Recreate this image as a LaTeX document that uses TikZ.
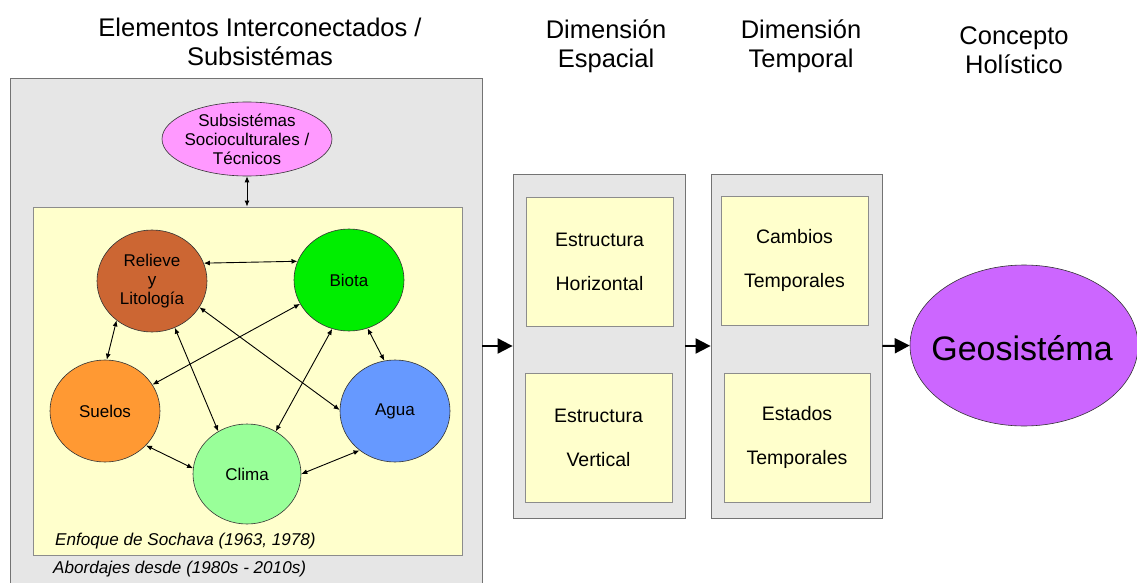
\documentclass[tikz,border=0pt]{standalone}
\usepackage{fontspec}
\setmainfont{Liberation Sans}
\usetikzlibrary{shapes.geometric,arrows.meta}
\definecolor{panelgray}{HTML}{E6E6E6}
\definecolor{paleyellow}{HTML}{FFFFCC}
\definecolor{relcol}{HTML}{CC6633}
\definecolor{biocol}{HTML}{00EE00}
\definecolor{suecol}{HTML}{FF9933}
\definecolor{agucol}{HTML}{6699FF}
\definecolor{clicol}{HTML}{99FF99}
\definecolor{pinkcol}{HTML}{FF99FF}
\definecolor{geocol}{HTML}{CC66FF}
\begin{document}
\begin{tikzpicture}[x=1pt,y=-1pt,
  panel/.style={draw=black!55, fill=panelgray, line width=0.8pt, inner sep=0pt},
  ybox/.style={draw=black!45, fill=paleyellow, line width=0.8pt, inner sep=0pt, align=center, font=\fontsize{19.5}{44}\selectfont},
  circ/.style={ellipse, draw=black!80, line width=0.6pt, minimum width=110pt, minimum height=102pt, inner sep=0pt, align=center, font=\fontsize{17}{19}\selectfont},
  conn/.style={{Latex[length=6pt,width=5pt]}-{Latex[length=6pt,width=5pt]}, line width=0.9pt},
  bigarrow/.style={-{Triangle[length=15pt,width=15pt]}, line width=2pt},
  header/.style={align=center, font=\fontsize{25.5}{29}\selectfont, inner sep=0pt},
  note/.style={anchor=west, inner sep=0pt, font=\fontsize{17.1}{19}\selectfont\itshape},
  label/.style={align=center, inner sep=0pt}
]
\useasboundingbox (0,0) rectangle (1137,583);
\clip (0,0) rectangle (1137,583);
\fill[white] (0,0) rectangle (1137,583);

% headers
\node[header] (h1) at (260,42) {Elementos Interconectados /\\Subsistémas};
\node[header] (h2) at (606,46) {Dimensión\\Espacial};
\node[header] (h3) at (801,46.5) {Dimensión\\Temporal};
\node[header] (h4) at (1014,50) {Concepto\\Holístico};

% left panel
\node[panel, minimum width=472pt, minimum height=522pt] (outer) at (246,339) {};
\node[ybox, minimum width=429pt, minimum height=348pt] (yel) at (247.5,381) {};
\node[ellipse, draw=black!80, fill=pinkcol, line width=0.6pt, minimum width=170pt, minimum height=74pt, inner sep=0pt] (sub) at (247,139) {};
\node[label, font=\fontsize{17}{19}\selectfont] (subtxt) at (sub.center) {Subsistémas\\Socioculturales /\\Técnicos};

\node[circ, fill=relcol] (rel) at (152,281) {Relieve\\y\\Litología};
\node[circ, fill=biocol] (bio) at (349,280) {Biota};
\node[circ, fill=suecol] (sue) at (105,411) {Suelos};
\node[circ, fill=agucol] (agu) at (395,411) {Agua};
\node[circ, fill=clicol, minimum width=108pt, minimum height=100pt] (cli) at (247,474) {Clima};

\draw[conn] (sub.south) -- (sub.south |- yel.north);
\draw[conn] (rel.19.7) -- (bio.160.6);
\draw[conn] (rel.228.8) -- (sue.88);
\draw[conn] (rel.-64.9) -- (cli.124);
\draw[conn] (rel.-29.9) -- (agu.179);
\draw[conn] (bio.206) -- (sue.29);
\draw[conn] (bio.251) -- (cli.56.6);
\draw[conn] (bio.291) -- (agu.102);
\draw[conn] (sue.-40.6) -- (cli.174);
\draw[conn] (cli.0) -- (agu.228);

\node[note] (n1) at (55,541) {Enfoque de Sochava (1963, 1978)};
\node[note] (n2) at (53,569) {Abordajes desde (1980s - 2010s)};

% spatial dimension
\node[panel, minimum width=172pt, minimum height=344pt] (esp) at (599,346) {};
\node[ybox, minimum width=147pt, minimum height=129pt] (eh) at (599.5,261.5) {Estructura\\Horizontal};
\node[ybox, minimum width=147pt, minimum height=129pt] (ev) at (598.5,437.5) {Estructura\\Vertical};

% temporal dimension
\node[panel, minimum width=171pt, minimum height=344pt] (tmp) at (796.5,346) {};
\node[ybox, minimum width=147pt, minimum height=129pt] (ct) at (794.5,260.5) {Cambios\\Temporales};
\node[ybox, minimum width=146pt, minimum height=129pt] (et) at (797,437.5) {Estados\\Temporales};

% geosystem
\node[ellipse, draw=black!80, fill=geocol, line width=0.6pt, minimum width=228pt, minimum height=161pt, inner sep=0pt] (geo) at (1024,345.5) {};
\node[label, font=\fontsize{34}{40}\selectfont] (geotxt) at (1022,348) {Geosistéma};

\draw[bigarrow] (outer.east |- esp.west) -- (esp.west);
\draw[bigarrow] (esp.east) -- (tmp.west);
\draw[bigarrow] (tmp.east) -- (geo.west);
\end{tikzpicture}
\end{document}
